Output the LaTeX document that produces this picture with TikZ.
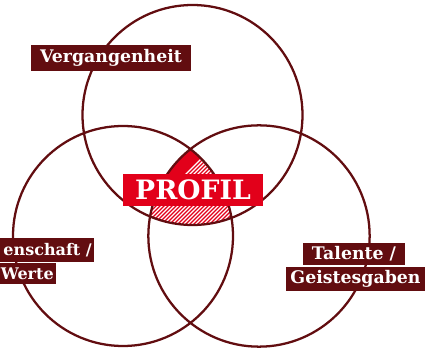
\documentclass[tikz,border=0pt]{standalone}
\usepackage{fontspec}
\setmainfont{DejaVu Serif}
\definecolor{darkred}{RGB}{98,13,16}
\definecolor{brightred}{RGB}{226,0,26}
\tikzset{
  ring/.style={draw=darkred, line width=1.7pt},
  tag/.style={fill=darkred, text=white, font=\bfseries\fontsize{13}{14}\selectfont, inner sep=0pt, align=center},
  tagtext/.style={text=white, font=\bfseries\fontsize{12}{13}\selectfont, inner sep=0pt},
  maintag/.style={fill=brightred, text=white, font=\bfseries\fontsize{20}{21}\selectfont, inner sep=0pt},
}
\begin{document}
\begin{tikzpicture}[x=0.75pt,y=-0.75pt]
\useasboundingbox (0,0) rectangle (430,353);
% hatched triple intersection
\begin{scope}
  \clip (192.5,115) circle (82.5pt);
  \clip (123,236) circle (82.5pt);
  \clip (259,236) circle (83pt);
  \fill[brightred] (100,100) rectangle (300,260);
  \foreach \i in {0,4,...,200} {
    \draw[white, line width=0.9pt] (100+\i,260) -- (100+\i+160,100);
  }
\end{scope}
\draw[ring] (192.5,115) circle (82.5pt);
\draw[ring] (123,236) circle (82.5pt);
\draw[ring] (259,236) circle (83pt);
\node[tag, minimum width=160*0.75pt, minimum height=26*0.75pt] (verg) at (111,58) {Vergangenheit};
\node[maintag, minimum width=140*0.75pt, minimum height=32*0.75pt] (profil) at (193,190) {PROFIL};
\fill[darkred] (-10,238) rectangle (94,262);
\fill[darkred] (-10,263) rectangle (56,284);
\node[tagtext, anchor=east] (leid) at (92,250) {enschaft /};
\node[tagtext, anchor=east] (werte) at (54,273.5) {Werte};
\node[tag, minimum width=102*0.75pt, minimum height=22*0.75pt] (talente) at (354,254) {Talente /};
\node[tag, minimum width=139*0.75pt, minimum height=24*0.75pt] (geist) at (355.5,279) {Geistesgaben};
\end{tikzpicture}
\end{document}
